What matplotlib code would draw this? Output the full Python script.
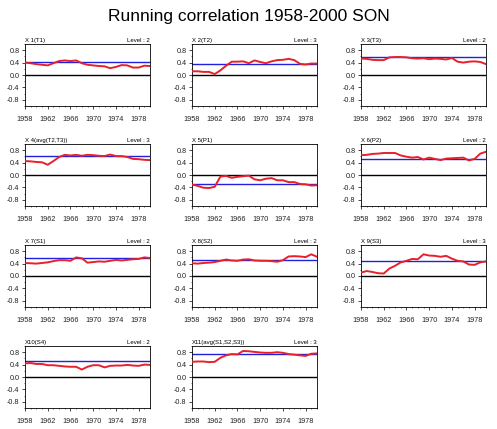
import matplotlib
matplotlib.use("Agg")
import matplotlib.pyplot as plt
import numpy as np
from matplotlib.ticker import MultipleLocator

plt.rcParams['font.family'] = ['Liberation Sans', 'DejaVu Sans']

years = list(range(1958, 1981))

names = ["X 1(T1)", "X 2(T2)", "X 3(T3)", "X 4(avg(T2,T3))", "X 5(P1)", "X 6(P2)",
         "X 7(S1)", "X 8(S2)", "X 9(S3)", "X10(S4)", "X11(avg(S1,S2,S3))"]
levels = ["Level : 2", "Level : 3", "Level : 2", "Level : 3", "", "Level : 2",
          "Level : 2", "Level : 2", "Level : 3", "Level : 2", "Level : 3"]

# overall correlation (blue line)
overall = [0.43, 0.36, 0.58, 0.61, -0.30, 0.53, 0.59, 0.53, 0.49, 0.52, 0.73]

# running correlation (red line), one list per panel
r_t1 = [0.40, 0.38, 0.35, 0.33, 0.31, 0.38, 0.45, 0.47, 0.45, 0.47, 0.38, 0.33,
        0.31, 0.29, 0.28, 0.22, 0.26, 0.32, 0.31, 0.24, 0.24, 0.30, 0.29]
r_t2 = [0.12, 0.12, 0.10, 0.10, 0.03, 0.15, 0.30, 0.43, 0.43, 0.44, 0.38, 0.47,
        0.42, 0.38, 0.44, 0.48, 0.49, 0.52, 0.48, 0.36, 0.34, 0.37, 0.37]
r_t3 = [0.53, 0.52, 0.49, 0.48, 0.48, 0.57, 0.58, 0.58, 0.57, 0.54, 0.53, 0.54,
        0.51, 0.53, 0.52, 0.50, 0.55, 0.43, 0.40, 0.43, 0.44, 0.42, 0.35]
r_t23 = [0.45, 0.44, 0.42, 0.41, 0.33, 0.45, 0.58, 0.65, 0.63, 0.65, 0.62, 0.65,
         0.64, 0.62, 0.61, 0.66, 0.61, 0.61, 0.58, 0.52, 0.51, 0.49, 0.48]
r_p1 = [-0.31, -0.35, -0.41, -0.42, -0.38, -0.05, -0.03, -0.09, -0.06, -0.04, -0.02, -0.14,
        -0.17, -0.12, -0.10, -0.17, -0.17, -0.23, -0.23, -0.29, -0.30, -0.34, -0.33]
r_p2 = [0.64, 0.65, 0.68, 0.69, 0.71, 0.71, 0.71, 0.63, 0.59, 0.56, 0.58, 0.50,
        0.56, 0.52, 0.48, 0.53, 0.54, 0.55, 0.56, 0.47, 0.52, 0.69, 0.75]
r_s1 = [0.42, 0.41, 0.40, 0.42, 0.44, 0.48, 0.51, 0.51, 0.49, 0.60, 0.57, 0.43,
        0.45, 0.47, 0.46, 0.49, 0.52, 0.50, 0.52, 0.54, 0.55, 0.60, 0.58]
r_s2 = [0.41, 0.40, 0.42, 0.43, 0.45, 0.49, 0.53, 0.50, 0.49, 0.53, 0.54, 0.50,
        0.49, 0.49, 0.48, 0.46, 0.51, 0.63, 0.64, 0.63, 0.61, 0.70, 0.62]
r_s3 = [0.11, 0.16, 0.13, 0.09, 0.08, 0.24, 0.33, 0.44, 0.49, 0.55, 0.54, 0.70,
        0.66, 0.65, 0.62, 0.65, 0.56, 0.49, 0.47, 0.37, 0.36, 0.44, 0.47]
r_s4 = [0.44, 0.45, 0.42, 0.42, 0.38, 0.38, 0.36, 0.34, 0.33, 0.33, 0.24, 0.33,
        0.38, 0.38, 0.31, 0.36, 0.37, 0.37, 0.39, 0.37, 0.36, 0.40, 0.39]
r_s123 = [0.49, 0.50, 0.50, 0.48, 0.49, 0.62, 0.70, 0.74, 0.73, 0.84, 0.83, 0.81,
          0.79, 0.78, 0.78, 0.80, 0.78, 0.74, 0.72, 0.70, 0.68, 0.75, 0.76]

running = [r_t1, r_t2, r_t3, r_t23, r_p1, r_p2, r_s1, r_s2, r_s3, r_s4, r_s123]

W, H = 497, 429
fig = plt.figure(figsize=(W / 100, H / 100), dpi=100)
fig.text(0.5, 1 - 17 / H, "Running correlation 1958-2000 SON", ha='center', va='center',
         fontsize=12.5)

col_left = [25, 192, 361]
row_top = [44, 144, 245, 346]
aw, ah = 125, 62

for i in range(len(names)):
    r, c = divmod(i, 3)
    ax = fig.add_axes([col_left[c] / W, 1 - (row_top[r] + ah) / H, aw / W, ah / H])
    ax.axhline(0, color='black', lw=1.0, zorder=1)
    ax.axhline(overall[i], color='#2020e0', lw=1.0, zorder=2)
    ax.plot(years, running[i], color='#e8202a', lw=1.4, zorder=3)
    ax.set_xlim(1958, 1980)
    ax.set_ylim(-1, 1)
    ax.set_xticks([1958, 1962, 1966, 1970, 1974, 1978])
    ax.set_yticks([-0.8, -0.4, 0.0, 0.4, 0.8])
    ax.set_yticklabels(["-0.8", "-0.4", "0.0", "0.4", "0.8"])
    ax.xaxis.set_minor_locator(MultipleLocator(1))
    ax.yaxis.set_minor_locator(MultipleLocator(0.2))
    ax.tick_params(which='major', direction='out', length=2.0, width=0.5, labelsize=5.2,
                   pad=2, top=False, right=False, labelcolor='#222222')
    ax.tick_params(which='minor', direction='out', length=1.0, width=0.4,
                   top=False, right=False)
    ax.tick_params(axis='x', which='major', pad=5)
    for s in ax.spines.values():
        s.set_linewidth(0.6)
    ax.text(0.0, 1.01, names[i], transform=ax.transAxes, ha='left', va='bottom', fontsize=4.3)
    if levels[i]:
        ax.text(1.0, 1.01, levels[i], transform=ax.transAxes, ha='right', va='bottom',
                fontsize=4.3)

fig.savefig("out.png", dpi=100)
